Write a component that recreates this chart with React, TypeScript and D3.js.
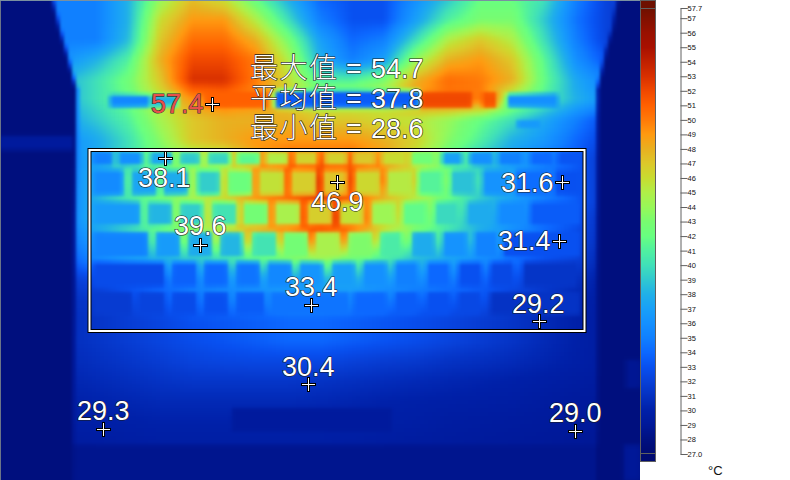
import React, { useEffect, useMemo, useRef } from "react";
import * as d3 from "d3";

const W = 640, H = 480, CELL = 4;

// temperature stops of the palette
const paletteTemps = [27, 28, 29, 30, 31, 32, 33, 34, 35, 36, 37, 38, 39, 40, 41, 42, 43, 44, 45, 46, 47, 48, 49, 50, 51, 52, 53, 54, 55, 56, 57, 57.7];
const paletteColors = ["#000a70", "#001080", "#001898", "#0020a8", "#0430c0", "#0840d8", "#0850f0", "#0c68ff", "#1080ff", "#1490ff", "#18a0f8", "#20b0e8", "#30c8d0", "#40e0b8", "#50f0a0", "#68ff80", "#78fc70", "#98f858", "#b0ee48", "#c8dc30", "#dcc82a", "#e8b020", "#ff9a10", "#ff7a08", "#ff6000", "#f04800", "#d83000", "#c02000", "#a81000", "#981000", "#801000", "#6e1000"];

const gridX = [0, 32, 64, 96, 128, 160, 192, 224, 256, 288, 320, 352, 384, 416, 448, 480, 512, 544, 576, 608, 640];
const gridY = [0, 20, 40, 60, 80, 100, 120, 140, 160, 180, 200, 220, 240, 260, 280, 300, 320, 340, 360, 380, 400, 420, 440, 460, 480];
const surfaceTemps = [
  [35, 35, 35, 35, 38, 44, 47.5, 46, 42, 38, 34, 33, 33, 36, 39, 42, 42, 40, 35, 32, 32],
  [35, 35, 35, 35, 38, 46, 49, 49, 45, 40, 35, 33, 33, 37, 41, 43, 43, 39, 34.5, 32, 32],
  [35, 35, 35, 35, 38.5, 47, 50.5, 50.5, 48, 43, 37, 34, 35, 40, 45, 47, 45, 40, 35, 32, 32],
  [36, 36, 36, 38, 41, 48, 52, 52, 50, 45, 38, 35, 37, 44, 48, 49, 47, 41.5, 36, 33, 33],
  [37, 37, 38, 40, 42.5, 47, 53, 53, 50, 46, 41, 41, 43, 48, 50.5, 50, 48, 42, 37.5, 35, 35],
  [37, 37, 38, 40, 42, 45.5, 49, 50, 49, 47, 45, 45, 46, 49, 50, 50, 44, 41, 38, 36, 36],
  [36, 36, 37, 39, 41, 44.5, 47, 48, 48, 48, 47, 47, 46, 45.5, 44, 42, 40, 37.5, 35, 32.5, 32],
  [35, 35, 36, 37.5, 40, 43.5, 47, 48, 49, 49, 49, 49, 48, 46.5, 43.5, 41, 38, 36.5, 34, 32, 31.5],
  [35, 35, 35.5, 37.5, 40, 42.5, 44, 45, 49, 51, 51, 51, 49, 45.5, 42, 39, 37, 35, 33.5, 31, 31],
  [34.5, 34.5, 35, 38, 41, 42.5, 44, 46, 49.5, 51, 53, 52, 50, 46.5, 43, 40, 38, 35.5, 33.5, 31, 31],
  [34, 34, 35, 38, 40.5, 42.5, 44.5, 46, 49, 50.5, 52.5, 51, 47.5, 45, 42, 39, 37, 35, 33.5, 31, 31],
  [34, 34, 35, 38, 40, 42.5, 44.5, 46.5, 49, 50.5, 53, 52, 47, 44, 41, 38, 36.5, 34.5, 33, 30.5, 30.5],
  [33, 33, 34, 37, 39.5, 41.5, 43.5, 45, 47, 48.5, 50.5, 48.5, 45, 42, 40, 38, 36, 34, 32.5, 30.5, 30.5],
  [32, 32, 33, 35.5, 37, 38, 39, 40, 41.5, 42.5, 43.5, 42, 40.5, 38.5, 37.5, 36, 34.5, 33, 32, 30, 30],
  [31, 31, 31.5, 32.5, 33.5, 34.5, 35.5, 36.5, 37, 37.5, 38, 38, 37, 36, 35, 34, 33, 32, 31, 29.5, 29.5],
  [30.5, 30.5, 31, 31.5, 32.5, 33.5, 34.5, 35, 35.5, 36, 36, 36, 35, 34, 33.5, 33, 32, 31, 30.3, 29.5, 29.5],
  [30.3, 30.3, 30.8, 31.3, 31.8, 32.3, 33, 33.3, 33.6, 34, 34, 33.6, 33.2, 32.8, 32.3, 31.8, 31.3, 30.6, 30, 29.5, 29.5],
  [30.3, 30.3, 30.8, 31.3, 31.8, 32.3, 32.8, 33.2, 33.6, 34, 34, 33.6, 33.2, 32.8, 32.3, 31.8, 31.3, 30.6, 30, 29.5, 29.5],
  [30.3, 30.3, 30.6, 31, 31.4, 31.8, 32.2, 32.4, 32.5, 32.5, 32.5, 32.1, 31.8, 31.6, 31.2, 31, 30.7, 30.3, 29.9, 29.5, 29.5],
  [30.1, 30.1, 30.3, 30.6, 30.9, 31.2, 31.4, 31.4, 31.4, 31.4, 31.2, 31, 30.8, 30.6, 30.4, 30.2, 30, 29.8, 29.6, 29.4, 29.4],
  [29.9, 29.9, 30, 30.2, 30.4, 30.6, 30.6, 30.6, 30.6, 30.6, 30.5, 30.3, 30.1, 30, 29.9, 29.8, 29.7, 29.5, 29.3, 29.2, 29.2],
  [29.7, 29.7, 29.9, 29.9, 30, 30.1, 30.1, 30.1, 30.1, 30.1, 30, 30, 29.9, 29.8, 29.6, 29.5, 29.4, 29.3, 29.2, 29.1, 29.1],
  [29.4, 29.4, 29.5, 29.6, 29.7, 29.8, 29.8, 29.8, 29.8, 29.8, 29.8, 29.7, 29.6, 29.5, 29.4, 29.3, 29.2, 29.1, 29, 28.9, 28.9],
  [29, 29, 29, 29, 29, 29, 29, 29, 29, 29, 29, 29, 29, 29, 29, 29, 29, 29, 29, 29, 29],
  [29, 29, 29, 29, 29, 29, 29, 29, 29, 29, 29, 29, 29, 29, 29, 29, 29, 29, 29, 29, 29],
];

// outline of the laptop body on the sensor
const edgeY = [0, 30, 50, 90, 480];
const leftEdgeX = [53, 60, 66, 77, 73];
const rightEdgeX = [617, 612, 606, 597, 597];
const bodyBottomY = 445;
const outsideTemp = 27.9;
const belowBodyTemp = 28.6;

// rows of keys: [left, right, temperature]
const keyRowSpans = [[152, 165], [170, 195], [202, 225], [232, 257], [262, 287], [292, 315]];
const keyRow1 = [[93, 112, 35], [119, 142, 36], [150, 172, 37.5], [180, 200, 39], [208, 230, 39.5], [237, 260, 41.5], [266, 288, 45], [295, 317, 46.5], [325, 347, 46.5], [353, 375, 47], [382, 405, 46], [412, 433, 42.5], [442, 462, 37], [470, 492, 36], [499, 522, 35], [530, 552, 34], [558, 580, 33.2]];
const keyRow2 = [[93, 123, 35.7], [132, 157, 37.2], [163, 188, 37.7], [197, 220, 39.2], [228, 252, 42.2], [259, 284, 45.7], [291, 316, 46.7], [323, 347, 47.2], [355, 380, 46.2], [387, 412, 45.2], [418, 443, 41.2], [451, 475, 38.7], [483, 510, 36.2], [515, 550, 34.2], [555, 580, 33]];
const keyRow3 = [[93, 140, 36.7], [148, 172, 38.2], [180, 203, 39.2], [212, 237, 40.2], [243, 268, 42.7], [275, 300, 44.7], [307, 332, 46.7], [340, 363, 45.7], [372, 395, 44.2], [403, 427, 41.7], [435, 458, 39.7], [467, 492, 37.7], [498, 525, 35.7], [530, 580, 33.5]];
const keyRow4 = [[93, 148, 35.2], [156, 180, 36.7], [188, 212, 37.7], [220, 243, 38.2], [252, 277, 40.2], [283, 308, 42.7], [315, 340, 44.7], [348, 372, 43.2], [380, 402, 40.7], [412, 435, 37.7], [443, 467, 36.2], [475, 497, 35.2], [503, 580, 33]];
const keyRow5 = [[93, 165, 32.7], [172, 197, 33.7], [204, 228, 34], [236, 260, 34.5], [267, 292, 35.5], [299, 323, 36.3], [332, 355, 36.8], [363, 387, 36], [395, 418, 35], [427, 450, 34], [458, 482, 33], [490, 513, 32.5], [523, 577, 31.3]];
const keyRow6 = [[93, 132, 31.7], [138, 165, 32.2], [172, 197, 32.7], [204, 228, 33], [236, 265, 33.5], [270, 350, 34.5], [353, 387, 34], [395, 418, 33.5], [427, 450, 33], [458, 480, 32.5], [490, 580, 31.2]];
const keyRows = [keyRow1, keyRow2, keyRow3, keyRow4, keyRow5, keyRow6];

// hinge, vents, trackpad and background patches: [x0, x1, y0, y1, temperature]
const patches = [
  [110, 150, 95, 107, 35.5],
  [150, 178, 95, 107, 38],
  [205, 268, 91, 108, 51],
  [275, 420, 91, 108, 33.5],
  [420, 472, 92, 108, 52],
  [482, 497, 92, 108, 51.5],
  [507, 558, 94, 107, 36],
  [517, 540, 120, 128, 36.5],
  [232, 392, 408, 432, 29.3],
  [0, 73, 136, 150, 29.3],
  [626, 640, 360, 388, 28.8],
  [624, 640, 445, 480, 29],
];

const statLabels = ["最大值", "平均值", "最小值"];
const statValues = ["54.7", "37.8", "28.6"];

const markerValues = ["57.4", "38.1", "46.9", "31.6", "39.6", "31.4", "33.4", "29.2", "30.4", "29.3", "29.0"];
const markerCrossX = [212, 165, 337, 562, 200, 559, 311, 539, 308, 103, 575];
const markerCrossY = [104, 158, 182, 182, 245, 241, 305, 321, 384, 429, 431];
const markerTextX = [151, 138, 311, 501, 174, 498, 285, 512, 282, 77, 549];
const markerTextY = [113, 187, 211, 192, 235, 250, 296, 313, 376, 420, 422];

const scaleTicks = d3.range(28, 58);
const scaleMin = 27.0, scaleMax = 57.7;

const smooth = (t: number) => {
  const c = Math.max(0, Math.min(1, t));
  return c * c * (3 - 2 * c);
};
const boxMask = (x: number, y: number, x0: number, x1: number, y0: number, y1: number, s: number) =>
  smooth((x - x0 + s / 2) / s) * smooth((x1 - x + s / 2) / s) * smooth((y - y0 + s / 2) / s) * smooth((y1 - y + s / 2) / s);

const colXIndex = d3.scaleLinear().domain([0, 640]).range([0, gridX.length - 1]).clamp(true);
const rowYIndex = d3.scaleLinear().domain([0, 480]).range([0, gridY.length - 1]).clamp(true);
const leftEdge = d3.scaleLinear().domain(edgeY).range(leftEdgeX);
const rightEdge = d3.scaleLinear().domain(edgeY).range(rightEdgeX);

function surfaceAt(x: number, y: number) {
  const cf = colXIndex(x), rf = rowYIndex(y);
  const c = Math.min(Math.floor(cf), gridX.length - 2), r = Math.min(Math.floor(rf), gridY.length - 2);
  const tx = cf - c, ty = rf - r;
  const top = d3.interpolateNumber(surfaceTemps[r][c], surfaceTemps[r][c + 1])(tx);
  const bot = d3.interpolateNumber(surfaceTemps[r + 1][c], surfaceTemps[r + 1][c + 1])(tx);
  return top + (bot - top) * ty;
}

function tempAt(x: number, y: number) {
  let t = surfaceAt(x, y);
  keyRows.forEach((row, i) => {
    const [y0, y1] = keyRowSpans[i];
    if (y < y0 - 4 || y > y1 + 4) return;
    row.forEach(([x0, x1, v]) => {
      const m = boxMask(x, y, x0, x1, y0, y1, 6);
      if (m > 0) t += (v - t) * m;
    });
  });
  const inside = smooth((x - leftEdge(y) + 3) / 6) * smooth((rightEdge(y) - x + 3) / 6);
  const above = smooth((bodyBottomY - y + 3) / 6);
  const lower = x > leftEdge(y) && x < rightEdge(y) ? belowBodyTemp : outsideTemp;
  t = t * above + lower * (1 - above);
  t = t * inside + outsideTemp * (1 - inside);
  patches.forEach(([x0, x1, y0, y1, v]) => {
    const m = boxMask(x, y, x0, x1, y0, y1, 6);
    if (m > 0) t += (v - t) * m;
  });
  return t;
}

const color = d3.scaleLinear<string>().domain(paletteTemps).range(paletteColors).clamp(true);

const SANS = '"Liberation Sans", Arial, sans-serif';
const CJK = '"Noto Sans CJK SC", "Noto Sans CJK JP", sans-serif';

export default function App() {
  const axisRef = useRef<SVGGElement>(null);
  const yScale = useMemo(() => d3.scaleLinear().domain([scaleMin, scaleMax]).range([454, 8]), []);

  const cells = useMemo(() => {
    const out: { x: number; y: number; f: string }[] = [];
    for (let y = -8; y < H + 8; y += CELL) {
      for (let x = -8; x < W + 8; x += CELL) {
        out.push({ x, y, f: color(tempAt(Math.max(0, Math.min(W, x + 2)), Math.max(0, Math.min(H, y + 2)))) as string });
      }
    }
    return out;
  }, []);

  useEffect(() => {
    if (!axisRef.current) return;
    const axis = d3
      .axisRight(yScale)
      .tickValues([scaleMin, ...scaleTicks, scaleMax])
      .tickSize(7)
      .tickPadding(0)
      .tickFormat((d) => (d === scaleMin || d === scaleMax ? (d as number).toFixed(1) : String(d)));
    const g = d3.select(axisRef.current).call(axis as any);
    g.select(".domain").attr("stroke", "#606060");
    g.selectAll(".tick line").attr("stroke", "#606060");
    g.selectAll(".tick text").attr("fill", "#111").attr("font-size", 7.5).attr("font-family", SANS);
  }, [yScale]);

  const barPixels = d3.range(8, 454);

  return (
    <svg width={790} height={480} style={{ position: "absolute", left: 0, top: 0, background: "#fff" }}>
      <defs>
        <clipPath id="img"><rect x={0} y={0} width={W} height={H} /></clipPath>
        <filter id="soft" filterUnits="userSpaceOnUse" x={-16} y={-16} width={W + 32} height={H + 32} colorInterpolationFilters="sRGB">
          <feGaussianBlur stdDeviation={1.8} />
        </filter>
      </defs>
      <g clipPath="url(#img)">
        <g filter="url(#soft)" shapeRendering="crispEdges">
          {cells.map((c, i) => (
            <rect key={i} x={c.x} y={c.y} width={CELL} height={CELL} fill={c.f} />
          ))}
        </g>
      </g>
      <line x1={0.5} y1={0} x2={0.5} y2={H} stroke="#6a7488" />
      <line x1={0} y1={0.5} x2={W} y2={0.5} stroke="#7a90a0" />

      {/* selection rectangle */}
      <rect x={89.5} y={150} width={495} height={181} fill="none" stroke="#000" strokeWidth={4} />
      <rect x={89.5} y={150} width={495} height={181} fill="none" stroke="#fff" strokeWidth={2} />

      {/* statistics */}
      {statLabels.map((s, i) => (
        <g key={s} fill="#fff" stroke="#1a1a1a" strokeWidth={1.2} style={{ paintOrder: "stroke" }}>
          <text x={250} y={78 + i * 30} fontFamily={CJK} fontSize={28} fontWeight={300} letterSpacing={1.5}>{s}</text>
          <text x={346} y={78 + i * 30} fontFamily={SANS} fontSize={27}>=</text>
          <text x={371} y={78 + i * 30} fontFamily={SANS} fontSize={27}>{statValues[i]}</text>
        </g>
      ))}

      {/* spot markers */}
      {markerValues.map((v, i) => (
        <g key={i}>
          <text x={markerTextX[i]} y={markerTextY[i]} fontFamily={SANS} fontSize={27} fill={i === 0 ? "#e8504a" : "#fff"} stroke={i === 0 ? "#333" : "#1a1a1a"} strokeWidth={1.2} style={{ paintOrder: "stroke" }}>{v}</text>
          <path d={`M${markerCrossX[i] - 7} ${markerCrossY[i] + 0.5}H${markerCrossX[i] + 8}M${markerCrossX[i] + 0.5} ${markerCrossY[i] - 7}V${markerCrossY[i] + 8}`} stroke="#000" strokeWidth={3} fill="none" />
          <path d={`M${markerCrossX[i] - 6} ${markerCrossY[i] + 0.5}H${markerCrossX[i] + 7}M${markerCrossX[i] + 0.5} ${markerCrossY[i] - 6}V${markerCrossY[i] + 7}`} stroke="#fff" strokeWidth={1} fill="none" />
        </g>
      ))}

      {/* colour bar */}
      <g shapeRendering="crispEdges">
        <rect x={641} y={1} width={14} height={7} fill={color(scaleMax) as string} />
        {barPixels.map((py) => (
          <rect key={py} x={641} y={py} width={14} height={1} fill={color(yScale.invert(py + 0.5)) as string} />
        ))}
        <rect x={641} y={454} width={14} height={7} fill={color(scaleMin) as string} />
        <rect x={640.5} y={0.5} width={15} height={461} fill="none" stroke="#606060" />
        <line x1={641} x2={655} y1={8.5} y2={8.5} stroke="#606060" />
        <line x1={641} x2={655} y1={453.5} y2={453.5} stroke="#606060" />
      </g>
      <g ref={axisRef} transform="translate(680.5,0)" />
      <text x={708} y={475} fontFamily={SANS} fontSize={13} fill="#111">°C</text>
    </svg>
  );
}
